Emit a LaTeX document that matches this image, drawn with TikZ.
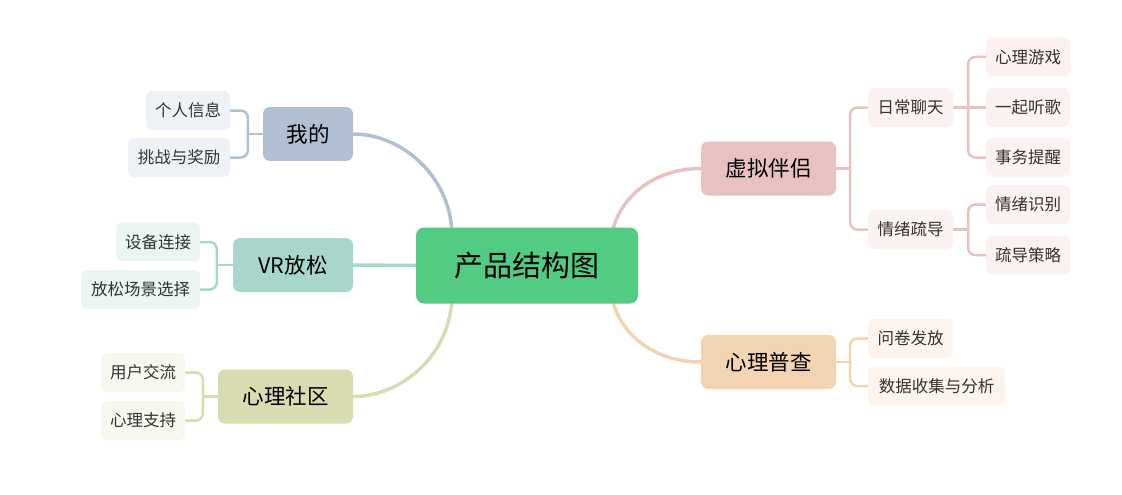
\documentclass[tikz,border=0pt]{standalone}
\usepackage{fontspec}
\setmainfont{Noto Sans CJK SC}
\usetikzlibrary{backgrounds}
\definecolor{rootc}{HTML}{52CC82}
\definecolor{cA}{HTML}{B0BFD1}\definecolor{lA}{HTML}{EEF2F7}
\definecolor{cB}{HTML}{A8D5CC}\definecolor{lB}{HTML}{EBF5F3}
\definecolor{cC}{HTML}{D9DBB0}\definecolor{lC}{HTML}{F6F7EE}
\definecolor{cD}{HTML}{E8C2C1}\definecolor{lD}{HTML}{FBF1F0}
\definecolor{cE}{HTML}{F2D4B3}\definecolor{lE}{HTML}{FCF3EC}
\definecolor{textc}{HTML}{333333}
\begin{document}
\begin{tikzpicture}[x=1pt,y=-1pt,
  rootbox/.style={fill=rootc, rounded corners=8pt, minimum width=222pt, minimum height=76pt, inner sep=0pt, font=\fontsize{29}{32}\selectfont, text=black},
  branchbox/.style={rounded corners=7pt, minimum height=54pt, inner sep=0pt, font=\fontsize{21.5}{24}\selectfont, text=black},
  leafbox/.style={rounded corners=6pt, minimum height=39pt, inner sep=0pt, font=\fontsize{16.5}{19}\selectfont, text=textc},
  mainlink/.style={line width=3.5pt},
  sublink/.style={line width=2.5pt, rounded corners=7pt}]
\useasboundingbox (0,0) rectangle (1122,495);
% root
\node[rootbox] (root) at (527,265.5) {产品结构图};
% 我的
\node[branchbox, fill=cA, minimum width=90pt] (wode) at (308,134) {我的};
\node[leafbox, fill=lA, minimum width=84pt] (geren) at (188,110.5) {个人信息};
\node[leafbox, fill=lA, minimum width=102pt] (tiaozhan) at (179,157.5) {挑战与奖励};
% VR放松
\node[branchbox, fill=cB, minimum width=120pt] (vr) at (293,265) {VR放松};
\node[leafbox, fill=lB, minimum width=84pt] (shebei) at (158,242) {设备连接};
\node[leafbox, fill=lB, minimum width=119pt] (fangsong) at (140.5,289.5) {放松场景选择};
% 心理社区
\node[branchbox, fill=cC, minimum width=135pt] (shequ) at (285.5,396.5) {心理社区};
\node[leafbox, fill=lC, minimum width=84pt] (jiaoliu) at (143,372.5) {用户交流};
\node[leafbox, fill=lC, minimum width=84pt] (zhichi) at (143,420.5) {心理支持};
% 虚拟伴侣
\node[branchbox, fill=cD, minimum width=135pt] (banlv) at (768.5,168.5) {虚拟伴侣};
\node[leafbox, fill=lD, minimum width=85pt] (liaotian) at (910.5,107.5) {日常聊天};
\node[leafbox, fill=lD, minimum width=85pt] (shudao) at (910.5,229.5) {情绪疏导};
\node[leafbox, fill=lD, minimum width=84pt] (youxi) at (1028,57) {心理游戏};
\node[leafbox, fill=lD, minimum width=84pt] (tingge) at (1028,107.5) {一起听歌};
\node[leafbox, fill=lD, minimum width=84pt] (tixing) at (1028,157.5) {事务提醒};
\node[leafbox, fill=lD, minimum width=84pt] (shibie) at (1028,204.5) {情绪识别};
\node[leafbox, fill=lD, minimum width=84pt] (celue) at (1028,255) {疏导策略};
% 心理普查
\node[branchbox, fill=cE, minimum width=135pt] (pucha) at (768.5,362) {心理普查};
\node[leafbox, fill=lE, minimum width=85pt] (wenjuan) at (910.5,338.5) {问卷发放};
\node[leafbox, fill=lE, minimum width=137pt] (shuju) at (936.5,386) {数据收集与分析};
% junctions
\coordinate (jA) at ([xshift=-15pt]wode.west);
\coordinate (jB) at ([xshift=-16pt]vr.west);
\coordinate (jC) at ([xshift=-15pt]shequ.west);
\coordinate (jD) at ([xshift=14pt]banlv.east);
\coordinate (jD1) at ([xshift=15pt]liaotian.east);
\coordinate (jD2) at ([xshift=15pt]shudao.east);
\coordinate (jE) at ([xshift=14pt]pucha.east);
\begin{scope}[on background layer]
  % main links
  \draw[mainlink, cA] ([xshift=-75pt,yshift=-6pt]root.north) .. controls +(-2,-58) and +(48,0) .. (wode.east);
  \draw[mainlink, cB] (root.west) -- (vr.east);
  \draw[mainlink, cC] ([xshift=-75pt,yshift=6pt]root.south) .. controls +(-2,58) and +(48,0) .. (shequ.east);
  \draw[mainlink, cD] ([xshift=85pt,yshift=-6pt]root.north) .. controls +(8,-38) and +(-45,0) .. (banlv.west);
  \draw[mainlink, cE] ([xshift=85pt,yshift=6pt]root.south) .. controls +(8,38) and +(-45,0) .. (pucha.west);
  % sub links
  \draw[sublink, cA] (wode.west) -- (jA);
  \draw[sublink, cA] (jA) |- (geren.east);
  \draw[sublink, cA] (jA) |- (tiaozhan.east);
  \draw[sublink, cB] (vr.west) -- (jB);
  \draw[sublink, cB] (jB) |- (shebei.east);
  \draw[sublink, cB] (jB) |- (fangsong.east);
  \draw[sublink, cC] (shequ.west) -- (jC);
  \draw[sublink, cC] (jC) |- (jiaoliu.east);
  \draw[sublink, cC] (jC) |- (zhichi.east);
  \draw[sublink, cD] (banlv.east) -- (jD);
  \draw[sublink, cD] (jD) |- (liaotian.west);
  \draw[sublink, cD] (jD) |- (shudao.west);
  \draw[sublink, cD] (liaotian.east) -- (tingge.west);
  \draw[sublink, cD] (jD1) |- (youxi.west);
  \draw[sublink, cD] (jD1) |- (tixing.west);
  \draw[sublink, cD] (shudao.east) -- (jD2);
  \draw[sublink, cD] (jD2) |- (shibie.west);
  \draw[sublink, cD] (jD2) |- (celue.west);
  \draw[sublink, cE] (pucha.east) -- (jE);
  \draw[sublink, cE] (jE) |- (wenjuan.west);
  \draw[sublink, cE] (jE) |- (shuju.west);
\end{scope}
\end{tikzpicture}
\end{document}
